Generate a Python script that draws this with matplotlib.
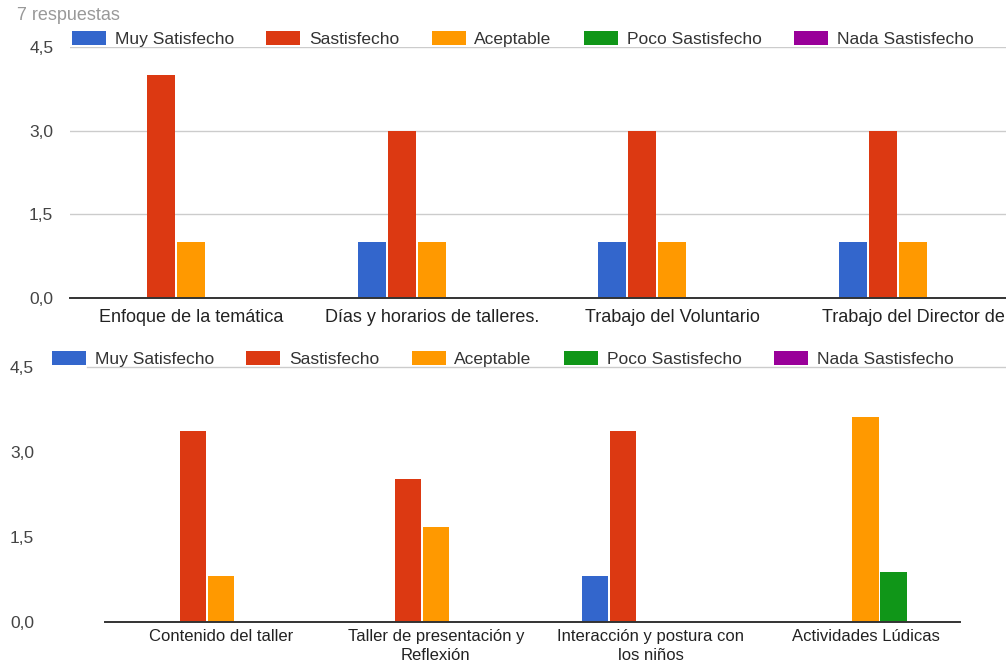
import matplotlib
matplotlib.use("Agg")
import matplotlib.pyplot as plt
import numpy as np

plt.rcParams['font.family'] = ['Liberation Sans', 'DejaVu Sans']

# ---------------- data ----------------
series_names = ["Muy Satisfecho", "Sastisfecho", "Aceptable", "Poco Sastisfecho", "Nada Sastisfecho"]
series_colors = ["#3366CC", "#DC3912", "#FF9900", "#109618", "#990099"]

top_categories = ["Enfoque de la temática", "Días y horarios de talleres.",
                  "Trabajo del Voluntario", "Trabajo del Director de"]
top_muy = [0, 1, 1, 1]
top_sat = [4, 3, 3, 3]
top_acep = [1, 1, 1, 1]
top_poco = [0, 0, 0, 0]
top_nada = [0, 0, 0, 0]

bottom_categories = ["Contenido del taller", "Taller de presentación y\nReflexión",
                     "Interacción y postura con\nlos niños", "Actividades Lúdicas"]
bot_muy = [0, 0, 0.8, 0]
bot_sat = [3.36, 2.52, 3.36, 0]
bot_acep = [0.8, 1.67, 0, 3.62]
bot_poco = [0, 0, 0, 0.87]
bot_nada = [0, 0, 0, 0]

y_ticks = [0, 1.5, 3.0, 4.5]
y_ticklabels = ["0,0", "1,5", "3,0", "4,5"]
response_note = "7 respuestas"

# ---------------- figure ----------------
W, H = 1006, 668
fig = plt.figure(figsize=(W / 100, H / 100), dpi=100)
fig.patch.set_facecolor("white")

text_color = "#444444"


def draw_chart(ax, cats, series, width, step, xlim, grid_full, tickpad, labpad, labsize, linesp):
    x = np.arange(len(cats))
    for j, (vals, col, name) in enumerate(zip(series, series_colors, series_names)):
        ax.bar(x + (j - 2) * step, vals, width=width, color=col, linewidth=0, label=name, zorder=3)
    ax.set_xlim(*xlim)
    ax.set_ylim(0, 4.5)
    ax.set_yticks(y_ticks)
    ax.set_yticklabels(y_ticklabels)
    ax.set_xticks(x)
    ax.set_xticklabels(cats, linespacing=linesp)
    for s in ["top", "right", "left"]:
        ax.spines[s].set_visible(False)
    ax.spines["bottom"].set_color("#333333")
    ax.spines["bottom"].set_linewidth(1.4)
    ax.spines["bottom"].set_zorder(4)
    ax.tick_params(axis="y", length=0, pad=tickpad, labelsize=12.5, labelcolor=text_color)
    ax.tick_params(axis="x", length=0, pad=labpad, labelsize=labsize, labelcolor="#222222")
    if grid_full:
        for v in y_ticks[1:]:
            ax.axhline(v, color="#cccccc", linewidth=1, zorder=1)


# top chart
ax1 = fig.add_axes([70 / W, 1 - 298 / H, (W - 70) / W, (298 - 47) / H])
draw_chart(ax1, top_categories, [top_muy, top_sat, top_acep, top_poco, top_nada],
           width=0.116, step=0.125, xlim=(-0.503, 3.386), grid_full=True,
           tickpad=12, labpad=8, labsize=13, linesp=1.2)

# bottom chart
ax2 = fig.add_axes([105 / W, 1 - 621.7 / H, (960 - 105) / W, (621.7 - 366.7) / H])
draw_chart(ax2, bottom_categories, [bot_muy, bot_sat, bot_acep, bot_poco, bot_nada],
           width=0.123, step=0.130, xlim=(-0.54, 3.44), grid_full=False,
           tickpad=51, labpad=5, labsize=12, linesp=1.35)
ax2.axhline(4.5, xmin=-0.021, xmax=1.06, color="#cccccc", linewidth=1, zorder=1, clip_on=False)

# legends
leg_kw = dict(ncol=5, frameon=False, loc="center left", borderpad=0, borderaxespad=0,
              handlelength=1.95, handleheight=0.86, handletextpad=0.5, columnspacing=1.88,
              fontsize=12.5, labelcolor="#333333", bbox_transform=fig.transFigure)
ax1.legend(bbox_to_anchor=(72 / W, 1 - 39 / H), **leg_kw)
ax2.legend(bbox_to_anchor=(52 / W, 1 - 359 / H), **leg_kw)

fig.text(17 / W, 1 - 15 / H, response_note, fontsize=13, color="#999999", va="center", ha="left")

fig.savefig("out.png", dpi=100, facecolor="white")
